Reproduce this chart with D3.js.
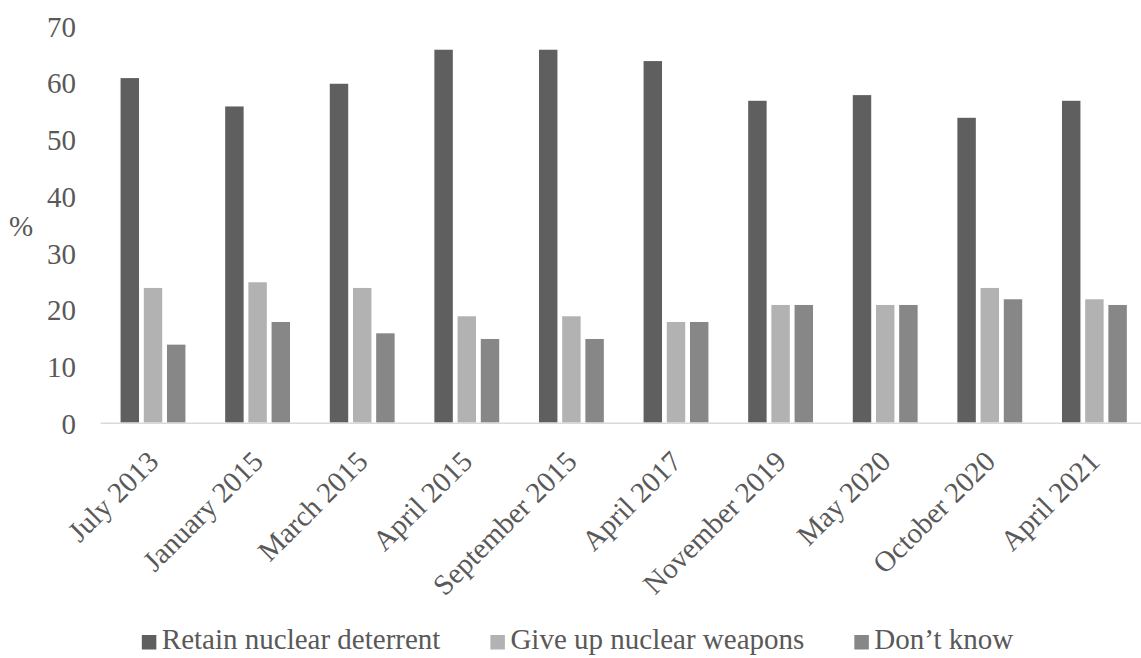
<!DOCTYPE html>
<html>
<head>
<meta charset="utf-8">
<script src="https://cdn.jsdelivr.net/npm/d3@7"></script>
<style>
  html, body { margin: 0; padding: 0; background: #fff; }
  svg { display: block; }
</style>
</head>
<body>
<svg id="chart" width="1141" height="658"></svg>
<script>
const categories = ["July 2013", "January 2015", "March 2015", "April 2015", "September 2015",
  "April 2017", "November 2019", "May 2020", "October 2020", "April 2021"];
const seriesNames = ["Retain nuclear deterrent", "Give up nuclear weapons", "Don\u2019t know"];
const retain = [61, 56, 60, 66, 66, 64, 57, 58, 54, 57];
const giveUp = [24, 25, 24, 19, 19, 18, 21, 21, 24, 22];
const dontKnow = [14, 18, 16, 15, 15, 18, 21, 21, 22, 21];
const yTicks = [0, 10, 20, 30, 40, 50, 60, 70];
const colors = ["#5f5f5f", "#b2b2b2", "#878787"];

const seriesValues = [retain, giveUp, dontKnow];
const svg = d3.select("#chart");
const fontSize = 29;
const FONT = "Liberation Serif";
const TEXT_COLOR = "#595959";
function styleText(sel) {
  return sel.style("font-family", FONT).attr("font-size", fontSize).style("fill", TEXT_COLOR);
}

const x0 = d3.scaleBand().domain(categories).range([100.7, 1146.7])
  .paddingInner(0.3346).paddingOuter(0.1673);
const x1 = d3.scaleBand().domain(seriesNames).range([0, x0.bandwidth()])
  .paddingInner(0.14).paddingOuter(0.07);
const y = d3.scaleLinear().domain([0, 70]).range([423.3, 26.3]);
const color = d3.scaleOrdinal().domain(seriesNames).range(colors);

// Bars
const groups = svg.append("g").selectAll("g")
  .data(categories)
  .join("g")
  .attr("transform", d => `translate(${x0(d)},0)`);

groups.selectAll("rect")
  .data((d, i) => seriesNames.map((s, j) => ({ s, v: seriesValues[j][i] })))
  .join("rect")
  .attr("x", d => x1(d.s))
  .attr("width", x1.bandwidth())
  .attr("y", d => y(d.v))
  .attr("height", d => y(0) - y(d.v))
  .attr("fill", d => color(d.s))
  .attr("stroke", "#ffffff")
  .attr("stroke-width", 1.5);

// X axis line
svg.append("line")
  .attr("x1", 100.7).attr("x2", 1141)
  .attr("y1", y(0)).attr("y2", y(0))
  .attr("stroke", "#d9d9d9").attr("stroke-width", 1.5);

// Y axis labels
const yAxis = d3.axisLeft(y).tickValues(yTicks).tickSize(0).tickPadding(0);
const yg = svg.append("g").attr("transform", "translate(76,0)").call(yAxis);
yg.attr("font-family", null).attr("font-size", null);
yg.select(".domain").remove();
styleText(yg.selectAll("text")).attr("dy", "0.34em");

// Y label
styleText(svg.append("text")
  .attr("x", 21).attr("y", 226)
  .attr("text-anchor", "middle")
  .attr("dy", "0.35em"))
  .text("%");

// X labels
styleText(svg.append("g").selectAll("text")
  .data(categories)
  .join("text")
  .attr("transform", d => `translate(${x0(d) + x0.bandwidth() / 2},456) rotate(-45)`)
  .attr("text-anchor", "end")
  .attr("dy", "0.35em"))
  .text(d => d);

// Legend
const legend = svg.append("g");
const items = legend.selectAll("g").data(seriesNames).join("g");
items.append("rect")
  .attr("x", 0).attr("y", 635)
  .attr("width", 14.5).attr("height", 14.5)
  .attr("fill", d => color(d));
styleText(items.append("text")
  .attr("x", 20).attr("y", 649))
  .text(d => d);
let widths = [];
items.each(function () {
  widths.push(20 + d3.select(this).select("text").node().getComputedTextLength());
});
const gap = 50;
const total = d3.sum(widths) + gap * (widths.length - 1);
let cx = 577.5 - total / 2;
items.attr("transform", (d, i) => {
  const tx = cx;
  cx += widths[i] + gap;
  return `translate(${tx},0)`;
});
</script>
</body>
</html>
